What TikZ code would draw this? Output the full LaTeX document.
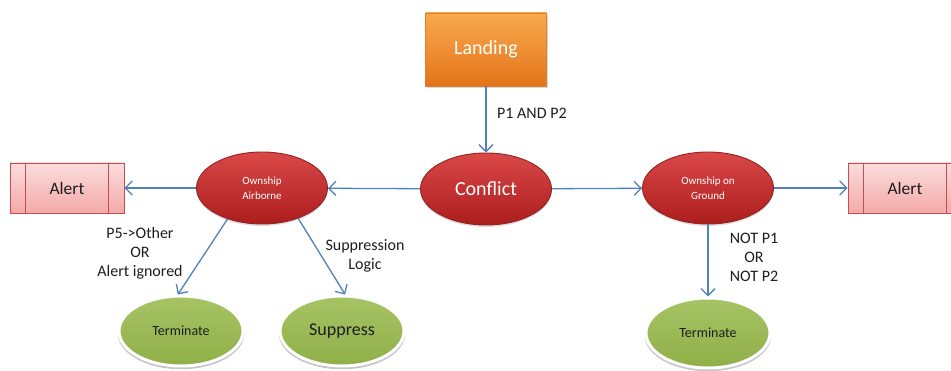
\documentclass[tikz,border=0pt]{standalone}
\usepackage{fontspec}
\setmainfont{Carlito}
\usetikzlibrary{arrows.meta,shapes.geometric,shadows}

\definecolor{linkblue}{HTML}{4F81BD}
\definecolor{redtop}{HTML}{DA4848}
\definecolor{redbottom}{HTML}{AC1D1D}
\definecolor{redrim}{HTML}{952020}
\definecolor{greentop}{HTML}{A6C465}
\definecolor{greenbottom}{HTML}{8FAF48}
\definecolor{orangetop}{HTML}{F9A94E}
\definecolor{orangebottom}{HTML}{E4741A}
\definecolor{orangerim}{HTML}{DE7F2A}
\definecolor{pinktop}{HTML}{FCDCDC}
\definecolor{pinkbottom}{HTML}{F3A9A9}
\definecolor{pinkrim}{HTML}{C0504D}
\definecolor{inktext}{HTML}{1E1E1E}

\tikzset{
  flow/.style={draw=linkblue, line width=1.3pt,
    -{Straight Barb[length=7pt,width=14pt,line width=1.3pt]}},
  redstate/.style={ellipse, minimum width=131pt, minimum height=72pt, inner sep=0pt,
    top color=redtop, bottom color=redbottom, draw=redrim, line width=0.9pt,
    text=white, align=center,
    drop shadow={shadow xshift=0pt, shadow yshift=-2pt, opacity=.25}},
  greenstate/.style={ellipse, minimum width=124pt, minimum height=70pt, inner sep=0pt,
    top color=greentop, bottom color=greenbottom, draw=white, line width=3pt,
    text=inktext, font=\fontsize{14}{16}\selectfont,
    drop shadow={shadow xshift=0pt, shadow yshift=-2.5pt, shadow scale=1.02,
      fill=black!50, opacity=.45}},
  landingbox/.style={rectangle, minimum width=121pt, minimum height=73pt, inner sep=0pt,
    top color=orangetop, bottom color=orangebottom, draw=orangerim, line width=0.6pt,
    text=white, font=\fontsize{20}{24}\selectfont,
    drop shadow={shadow xshift=1.5pt, shadow yshift=-2pt, opacity=.3}},
  alertbox/.style={rectangle, minimum width=114pt, minimum height=50pt, inner sep=0pt,
    top color=pinktop, bottom color=pinkbottom, draw=pinkrim, line width=0.7pt,
    text=inktext, font=\fontsize{17.5}{20}\selectfont},
  alertbar/.style={draw=pinkrim, line width=0.7pt},
  lbl/.style={text=inktext, align=center, inner sep=0pt,
    font=\fontsize{16}{19}\selectfont},
}

\begin{document}
\begin{tikzpicture}[x=1pt, y=-1pt]
  \clip (0,0) rectangle (951,371);
  \fill[white] (0,0) rectangle (951,371);

  % states
  \node[landingbox] (landing) at (486,49.5) {Landing};
  \node[redstate, font=\fontsize{20}{24}\selectfont] (conflict) at (486,189) {Conflict};
  \node[redstate, font=\fontsize{11}{15}\selectfont] (air) at (262,188) {Ownship\\Airborne};
  \node[redstate, font=\fontsize{11}{15}\selectfont] (gnd) at (708,188) {Ownship on\\Ground};

  % alert boxes with their inner bars
  \node[alertbox] (alertL) at (67,188) {Alert};
  \draw[alertbar] ([xshift=16pt]alertL.north west) -- ([xshift=16pt]alertL.south west);
  \draw[alertbar] ([xshift=-16pt]alertL.north east) -- ([xshift=-16pt]alertL.south east);
  \node[alertbox] (alertR) at (905,188) {Alert};
  \draw[alertbar] ([xshift=16pt]alertR.north west) -- ([xshift=16pt]alertR.south west);
  \draw[alertbar] ([xshift=-16pt]alertR.north east) -- ([xshift=-16pt]alertR.south east);

  % end states
  \node[greenstate] (term1) at (181,331) {Terminate};
  \node[greenstate, font=\fontsize{18}{21}\selectfont] (supp) at (342,331) {Suppress};
  \node[greenstate] (term2) at (708,333) {Terminate};

  % transitions
  \draw[flow] (landing) -- (conflict);
  \draw[flow] (conflict) -- (air);
  \draw[flow] (air) -- (alertL);
  \draw[flow] (conflict) -- (gnd);
  \draw[flow] (gnd) -- (alertR);
  \draw[flow] (air.222) -- (term1.95);
  \draw[flow] (air.320) -- (supp.85);
  \draw[flow] (gnd) -- (term2);

  % transition labels
  \node[lbl, anchor=west] (lblland) at (497,113) {P1 AND P2};
  \node[lbl] (lblterm) at (140,253) {P5->Other\\OR\\Alert ignored};
  \node[lbl] (lblsupp) at (365,256) {Suppression\\Logic};
  \node[lbl] (lblgnd) at (754,257) {NOT P1\\OR\\NOT P2};
\end{tikzpicture}
\end{document}
